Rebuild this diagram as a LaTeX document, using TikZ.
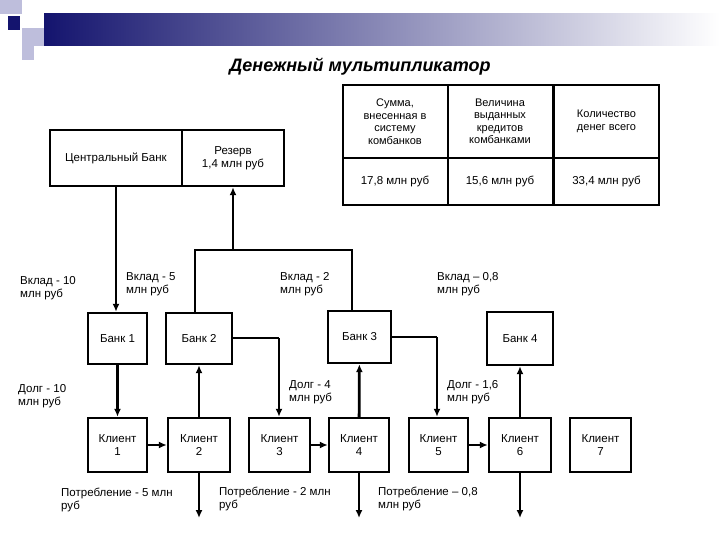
\documentclass[tikz,border=0pt]{standalone}
\usepackage{fontspec}
\setmainfont{Liberation Sans}
\usetikzlibrary{arrows.meta}
\definecolor{navy}{RGB}{20,20,110}
\definecolor{lav}{RGB}{190,190,220}
\begin{document}
\begin{tikzpicture}[x=1pt,y=-1pt,
  box/.style={draw,line width=2.4pt,inner sep=0pt,align=center,font=\fontsize{11.5}{12.5}\selectfont},
  lbl/.style={anchor=north west,align=left,inner sep=0pt,font=\fontsize{11.5}{13}\selectfont},
  ln/.style={line width=2.8pt},
  ar/.style={line width=2.8pt,-{Latex[length=8pt,width=7pt]}},
  every node/.style={text=black}]
\useasboundingbox (0,0) rectangle (720,540);
% header decoration
\shade[left color=navy,right color=white] (44,14) rectangle (720,46);
\fill[lav] (0,0) rectangle (22,14);
\fill[navy] (8,16) rectangle (20,30);
\fill[lav] (22,28) rectangle (44,46);
\fill[lav] (22,46) rectangle (34,60);
\node[font=\fontsize{18}{20}\selectfont\bfseries\itshape] (title) at (360,67) {Денежный мультипликатор};
% central bank
\node[box,minimum width=132pt,minimum height=56pt] (cb) at (116,158) {Центральный Банк};
\node[box,minimum width=102pt,minimum height=56pt] (res) at (233,158) {Резерв\\1,4 млн руб};
% table
\foreach \i/\x/\t/\v in {1/395/{Сумма,\\внесенная в\\систему\\комбанков}/{17,8 млн руб},2/500/{Величина\\выданных\\кредитов\\комбанками}/{15,6 млн руб},3/606.5/{Количество\\денег всего}/{33,4 млн руб}}{
  \node[box,line width=2pt,minimum width=105pt,minimum height=73pt,font=\fontsize{11}{12.5}\selectfont] (h\i) at (\x,121.5) {\t};
  \node[box,line width=2pt,minimum width=105pt,minimum height=47pt,font=\fontsize{11.5}{12.5}\selectfont] (v\i) at (\x,181.5) {\v};
}
% banks
\node[box,minimum width=59pt,minimum height=51pt] (b1) at (117.5,338.5) {Банк 1};
\node[box,minimum width=66pt,minimum height=51pt] (b2) at (199,338.5) {Банк 2};
\node[box,minimum width=63pt,minimum height=52pt] (b3) at (359.5,337) {Банк 3};
\node[box,minimum width=66pt,minimum height=53pt] (b4) at (520,338.5) {Банк 4};
% clients
\foreach \i/\x/\w in {1/117.5/59,2/199/62,3/279.5/61,4/359/60,5/438.5/59,6/520/62,7/600.5/61}{
  \node[box,minimum width=\w pt,minimum height=54pt] (c\i) at (\x,445) {Клиент\\\i};
}
% coordinates
\coordinate (j1) at (195,250);
\coordinate (j2) at (352,250);
\coordinate (jr) at (233,250);
\coordinate (k2) at (279,338);
\coordinate (k3) at (437,337);
\coordinate (e2) at (199,518);
\coordinate (e4) at (359,518);
\coordinate (e6) at (520,518);
% connectors
\draw[ar] (cb.south -| 116,0) -- (b1.north -| 116,0);
\draw[ln] (b2.north -| j1) -- (j1) -- (j2) -- (b3.north -| j2);
\draw[ar] (jr) -- (res.south);
\draw[ar] (b1) -- (c1);
\draw[ar] (c2) -- (b2);
\draw[ar] (c4) -- (b3);
\draw[ar] (c6) -- (b4);
\draw[ln] (b2.east |- k2) -- (k2);
\draw[ar] (k2) -- (c3.north -| k2);
\draw[ln] (b3.east |- k3) -- (k3);
\draw[ar] (k3) -- (c5.north -| k3);
\draw[ar] (c1) -- (c2);
\draw[ar] (c3) -- (c4);
\draw[ar] (c5) -- (c6);
\draw[ar] (c2) -- (e2);
\draw[ar] (c4) -- (e4);
\draw[ar] (c6) -- (e6);
% labels
\node[lbl] (l1) at (20,276) {Вклад - 10\\млн руб};
\node[lbl] (l2) at (126,272) {Вклад - 5\\млн руб};
\node[lbl] (l3) at (280,272) {Вклад - 2\\млн руб};
\node[lbl] (l4) at (437,272) {Вклад – 0,8\\млн руб};
\node[lbl] (d1) at (18,384) {Долг - 10\\млн руб};
\node[lbl] (d2) at (289,380) {Долг - 4\\млн руб};
\node[lbl] (d3) at (447,380) {Долг - 1,6\\млн руб};
\node[lbl] (p1) at (61,488) {Потребление - 5 млн\\руб};
\node[lbl] (p2) at (219,487) {Потребление - 2 млн\\руб};
\node[lbl] (p3) at (378,487) {Потребление – 0,8\\млн руб};
\end{tikzpicture}
\end{document}
